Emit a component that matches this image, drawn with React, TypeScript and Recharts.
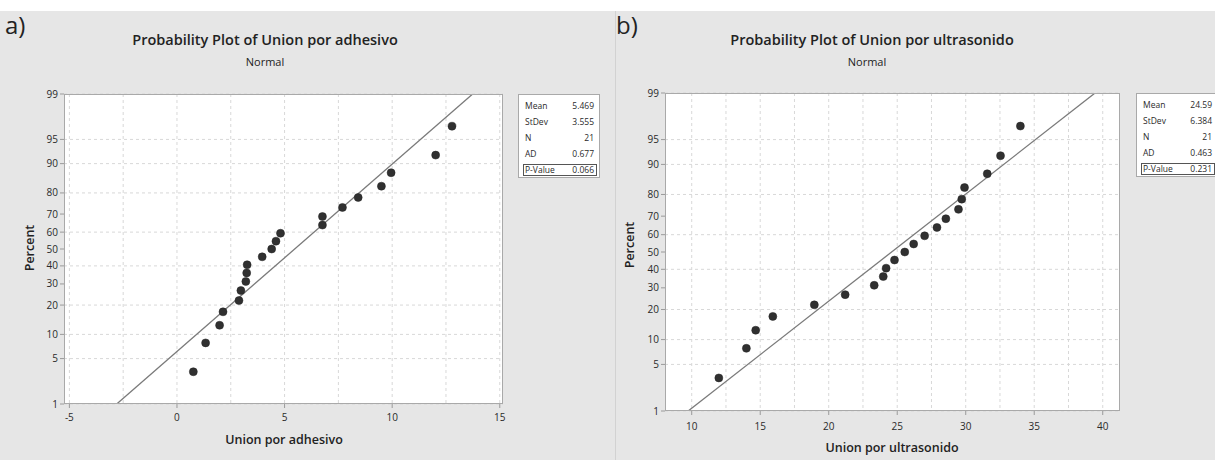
import React from 'react';
import { ScatterChart, Scatter, XAxis, YAxis, CartesianGrid, ReferenceLine } from 'recharts';

// Median-rank percentages (same ranks for both samples, N = 21)
const percentRanks = [3.27, 7.94, 12.62, 17.29, 21.96, 26.64, 31.31, 35.98, 40.65, 45.33, 50.0, 54.67, 59.35, 64.02, 68.69, 73.36, 78.04, 82.71, 87.38, 92.06, 96.73];

const adhesivoValues = [0.76, 1.33, 1.98, 2.14, 2.88, 2.97, 3.2, 3.24, 3.26, 3.96, 4.4, 4.6, 4.81, 6.76, 6.76, 7.69, 8.42, 9.5, 9.95, 12.02, 12.78];
const ultrasonidoValues = [11.98, 13.99, 14.67, 15.92, 18.95, 21.2, 23.32, 23.98, 24.19, 24.8, 25.55, 26.2, 27.0, 27.9, 28.55, 29.47, 29.71, 29.91, 31.57, 32.54, 33.99];

const percentTicks = [1, 5, 10, 20, 30, 40, 50, 60, 70, 80, 90, 95, 99];
const adhesivoXTicks = [-5, 0, 5, 10, 15];
const ultrasonidoXTicks = [10, 15, 20, 25, 30, 35, 40];
const adhesivoGridX = [-5, -2.5, 0, 2.5, 5, 7.5, 10, 12.5, 15];
const ultrasonidoGridX = [10, 12.5, 15, 17.5, 20, 22.5, 25, 27.5, 30, 32.5, 35, 37.5, 40];

const adhesivoFit = [{ x: -2.8, p: 1 }, { x: 13.74, p: 99 }];
const ultrasonidoFit = [{ x: 9.74, p: 1 }, { x: 39.44, p: 99 }];

const adhesivoStats = [['Mean', '5.469'], ['StDev', '3.555'], ['N', '21'], ['AD', '0.677']];
const adhesivoPValue = '0.066';
const ultrasonidoStats = [['Mean', '24.59'], ['StDev', '6.384'], ['N', '21'], ['AD', '0.463']];
const ultrasonidoPValue = '0.231';

function probit(p: number): number {
  const a = [-3.969683028665376e1, 2.209460984245205e2, -2.759285104469687e2, 1.38357751867269e2, -3.066479806614716e1, 2.506628277459239];
  const b = [-5.447609879822406e1, 1.615858368580409e2, -1.556989798598866e2, 6.680131188771972e1, -1.328068155288572e1];
  const c = [-7.784894002430293e-3, -3.223964580411365e-1, -2.400758277161838, -2.549732539343734, 4.374664141464968, 2.938163982698783];
  const d = [7.784695709041462e-3, 3.224671290700398e-1, 2.445134137142996, 3.754408661907416];
  const plow = 0.02425;
  const phigh = 1 - plow;
  if (p < plow) {
    const q = Math.sqrt(-2 * Math.log(p));
    return (((((c[0] * q + c[1]) * q + c[2]) * q + c[3]) * q + c[4]) * q + c[5]) / ((((d[0] * q + d[1]) * q + d[2]) * q + d[3]) * q + 1);
  }
  if (p <= phigh) {
    const q = p - 0.5;
    const r = q * q;
    return ((((((a[0] * r + a[1]) * r + a[2]) * r + a[3]) * r + a[4]) * r + a[5]) * q) / (((((b[0] * r + b[1]) * r + b[2]) * r + b[3]) * r + b[4]) * r + 1);
  }
  const q = Math.sqrt(-2 * Math.log(1 - p));
  return -(((((c[0] * q + c[1]) * q + c[2]) * q + c[3]) * q + c[4]) * q + c[5]) / ((((d[0] * q + d[1]) * q + d[2]) * q + d[3]) * q + 1);
}

const FONT = '"Open Sans", "DejaVu Sans", sans-serif';
const zTicks = percentTicks.map((p) => probit(p / 100));
const zMin = probit(0.01);
const zMax = probit(0.99);
const fmtPct = (v: number) => {
  const i = zTicks.findIndex((t) => Math.abs(t - v) < 1e-6);
  return i >= 0 ? String(percentTicks[i]) : '';
};

const Dot = (props: any) => <circle cx={props.cx} cy={props.cy} r={4} fill="#303030" stroke="#222" strokeWidth={0.5} />;

type PanelProps = {
  left: number;
  width: number;
  plotLeft: number;
  plotTop: number;
  plotRight: number;
  plotBottom: number;
  values: number[];
  fit: { x: number; p: number }[];
  xDomain: [number, number];
  xTicks: number[];
  gridX: number[];
  xTickMargin: number;
};

function Panel(pr: PanelProps) {
  const data = pr.values.map((x, i) => ({ x, z: probit(percentRanks[i] / 100) }));
  const yW = 34;
  const xH = 30;
  const localPlotLeft = pr.plotLeft - pr.left;
  const margin = {
    top: pr.plotTop,
    left: localPlotLeft - yW,
    right: pr.left + pr.width - pr.plotRight,
    bottom: 460 - pr.plotBottom - xH,
  };
  return (
    <div style={{ position: 'absolute', left: pr.left, top: 0, width: pr.width, height: 460 }}>
      <ScatterChart width={pr.width} height={460} margin={margin}>
        <CartesianGrid
          fill="#ffffff"
          stroke="#d8d8d8"
          strokeDasharray="3 3"
          horizontalValues={zTicks}
          verticalValues={pr.gridX}
        />
        <XAxis
          type="number"
          dataKey="x"
          domain={pr.xDomain}
          ticks={pr.xTicks}
          allowDataOverflow
          height={xH}
          axisLine={false}
          tickLine={{ stroke: '#9a9a9a' }}
          tickSize={4}
          tickMargin={pr.xTickMargin}
          tick={{ fontSize: 10, fill: '#2a2a2a', fontFamily: FONT }}
        />
        <YAxis
          type="number"
          dataKey="z"
          domain={[zMin, zMax]}
          ticks={zTicks}
          allowDataOverflow
          width={yW}
          axisLine={false}
          tickLine={{ stroke: '#9a9a9a' }}
          tickSize={4}
          tickMargin={2}
          tickFormatter={fmtPct}
          tick={{ fontSize: 10, fill: '#2a2a2a', fontFamily: FONT }}
        />
        <ReferenceLine
          segment={pr.fit.map((f) => ({ x: f.x, y: probit(f.p / 100) }))}
          stroke="#7a7a7a"
          strokeWidth={1.3}
          ifOverflow="hidden"
        />
        <Scatter data={data} shape={Dot} isAnimationActive={false} />
      </ScatterChart>
      <div
        style={{
          position: 'absolute',
          left: localPlotLeft,
          top: pr.plotTop,
          width: pr.plotRight - pr.plotLeft,
          height: pr.plotBottom - pr.plotTop,
          border: '1px solid #a9a9a9',
          boxSizing: 'border-box',
          pointerEvents: 'none',
        }}
      />
    </div>
  );
}

function centered(x: number, y: number, text: string, style: React.CSSProperties, rotate = false) {
  return (
    <div
      style={{
        position: 'absolute',
        left: x,
        top: y,
        transform: `translate(-50%, -50%)${rotate ? ' rotate(-90deg)' : ''}`,
        whiteSpace: 'nowrap',
        fontFamily: FONT,
        color: '#222',
        lineHeight: 1,
        ...style,
      }}
    >
      {text}
    </div>
  );
}

function StatsBox({ left, top, rows, pValue }: { left: number; top: number; rows: string[][]; pValue: string }) {
  const rowStyle: React.CSSProperties = {
    position: 'absolute',
    left: 6,
    right: 5,
    display: 'flex',
    justifyContent: 'space-between',
    fontSize: 8.5,
    lineHeight: '10px',
    color: '#2a2a2a',
    fontFamily: FONT,
  };
  return (
    <div
      style={{
        position: 'absolute',
        left,
        top,
        width: 82,
        height: 84,
        background: '#fff',
        border: '1px solid #a9a9a9',
        boxSizing: 'border-box',
      }}
    >
      {rows.map((r, i) => (
        <div key={r[0]} style={{ ...rowStyle, top: 6 + i * 16 }}>
          <span>{r[0]}</span>
          <span>{r[1]}</span>
        </div>
      ))}
      <div
        style={{
          position: 'absolute',
          left: 4,
          right: 2,
          top: 69,
          height: 12,
          border: '1.5px solid #555',
          boxSizing: 'border-box',
        }}
      />
      <div style={{ ...rowStyle, top: 70 }}>
        <span>P-Value</span>
        <span>{pValue}</span>
      </div>
    </div>
  );
}

export default function App() {
  const titleStyle: React.CSSProperties = { fontSize: 14.5, fontWeight: 600 };
  const subStyle: React.CSSProperties = { fontSize: 11, fontWeight: 400 };
  const axisTitle: React.CSSProperties = { fontSize: 12.5, fontWeight: 600 };
  const letter: React.CSSProperties = { position: 'absolute', top: 13, fontSize: 24, fontFamily: FONT, color: '#222', lineHeight: 1 };
  return (
    <div style={{ position: 'absolute', left: 0, top: 0, width: 1215, height: 460, overflow: 'hidden', background: '#fff' }}>
      <div style={{ position: 'absolute', left: 0, top: 11, width: 615, height: 449, background: '#e6e6e6' }} />
      <div style={{ position: 'absolute', left: 616, top: 11, width: 599, height: 449, background: '#e6e6e6' }} />
      <div style={{ position: 'absolute', left: 615, top: 11, width: 1, height: 449, background: '#d2d2d2' }} />

      <Panel
        left={0}
        width={615}
        plotLeft={64}
        plotTop={94}
        plotRight={503}
        plotBottom={404}
        values={adhesivoValues}
        fit={adhesivoFit}
        xDomain={[-5.25, 15.15]}
        xTicks={adhesivoXTicks}
        gridX={adhesivoGridX}
        xTickMargin={6}
      />
      <Panel
        left={615}
        width={600}
        plotLeft={665}
        plotTop={93}
        plotRight={1120}
        plotBottom={411}
        values={ultrasonidoValues}
        fit={ultrasonidoFit}
        xDomain={[8.05, 41.26]}
        xTicks={ultrasonidoXTicks}
        gridX={ultrasonidoGridX}
        xTickMargin={8}
      />

      <div style={{ ...letter, left: 5 }}>a)</div>
      <div style={{ ...letter, left: 616 }}>b)</div>

      {centered(265, 40, 'Probability Plot of Union por adhesivo', titleStyle)}
      {centered(265, 61, 'Normal', subStyle)}
      {centered(872, 40, 'Probability Plot of Union por ultrasonido', titleStyle)}
      {centered(867, 61, 'Normal', subStyle)}

      {centered(30, 248, 'Percent', axisTitle, true)}
      {centered(630, 245, 'Percent', axisTitle, true)}
      {centered(284, 440, 'Union por adhesivo', axisTitle)}
      {centered(892, 448, 'Union por ultrasonido', axisTitle)}

      <StatsBox left={518} top={94} rows={adhesivoStats} pValue={adhesivoPValue} />
      <StatsBox left={1136} top={93} rows={ultrasonidoStats} pValue={ultrasonidoPValue} />
    </div>
  );
}
